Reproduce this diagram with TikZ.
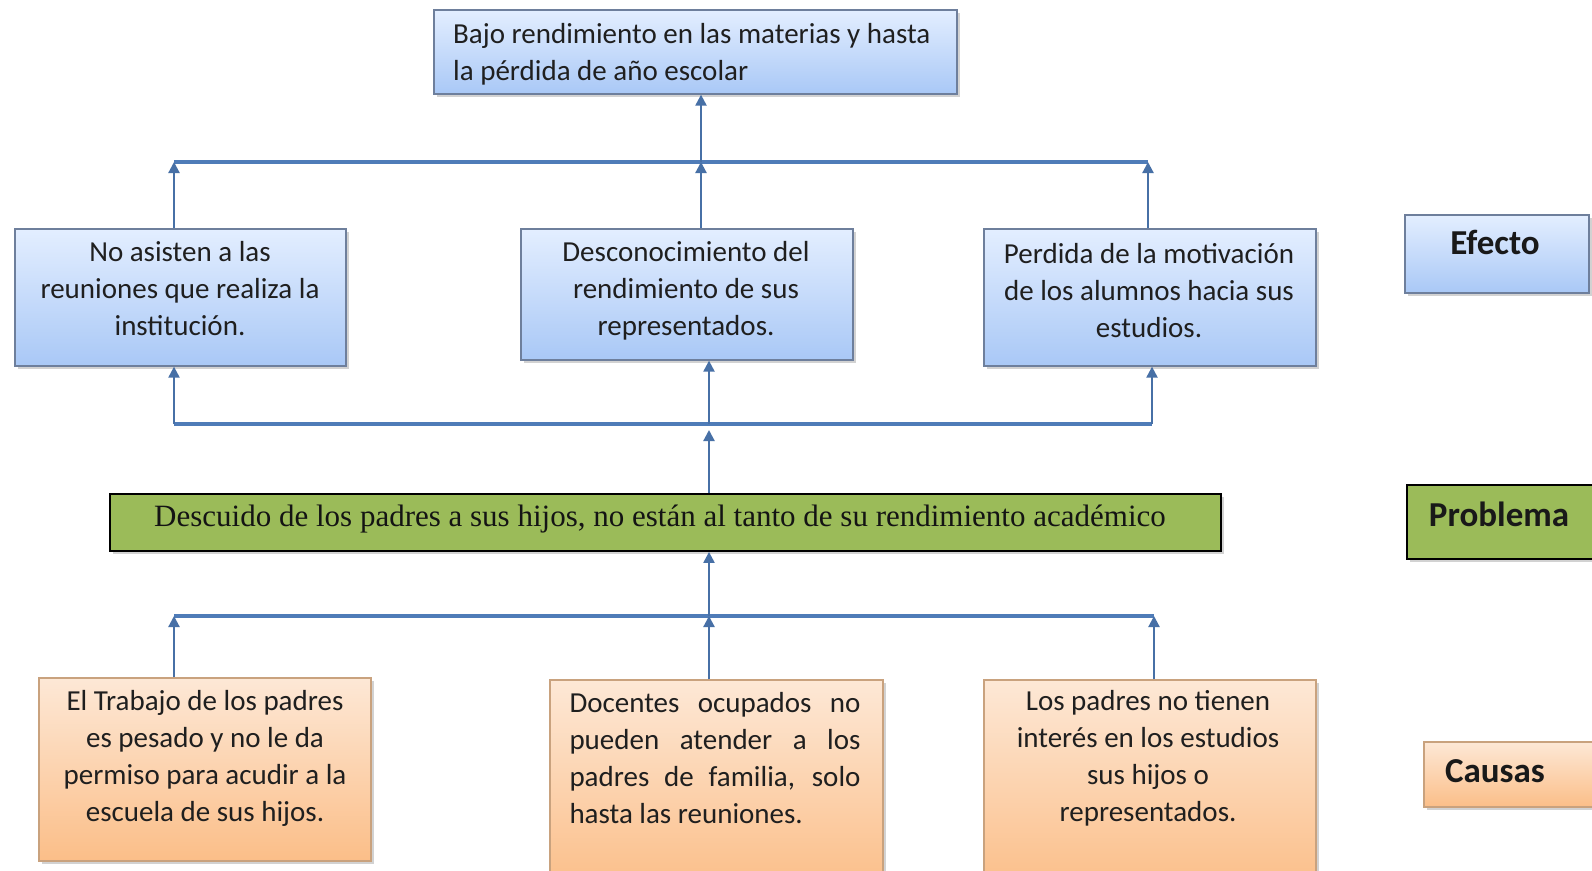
\documentclass[tikz,border=0pt]{standalone}
\usepackage{fontspec}
\setmainfont{Carlito}
\newfontfamily\serifp{Liberation Serif}
\usetikzlibrary{arrows.meta,shadows}
\definecolor{bluetop}{HTML}{E3EEFF}
\definecolor{bluebot}{HTML}{A9C8F6}
\definecolor{blueedge}{HTML}{6E7F9C}
\definecolor{ortop}{HTML}{FDE8D6}
\definecolor{orbot}{HTML}{FBBE88}
\definecolor{oredge}{HTML}{C9A27E}
\definecolor{green}{HTML}{9BBB59}
\definecolor{linec}{HTML}{4F7CB8}
\begin{document}
\begin{tikzpicture}[x=1pt,y=-1pt,
  shade/.style={drop shadow={shadow xshift=3pt,shadow yshift=-3pt,opacity=.35}},
  bluebox/.style={draw=blueedge,line width=1.3pt,top color=bluetop,bottom color=bluebot,shade,inner sep=0pt},
  orbox/.style={draw=oredge,line width=1.3pt,top color=ortop,bottom color=orbot,shade,inner sep=0pt},
  greenbox/.style={draw=black,line width=1.8pt,fill=green,shade,inner sep=0pt},
  txt/.style={font=\fontsize{29}{37}\selectfont,text=black!88,inner sep=0pt,align=center},
  legtxt/.style={font=\fontsize{35}{40}\selectfont\bfseries,text=black!90,inner sep=0pt},
  hline/.style={draw=linec,line width=4pt},
  arr/.style={draw=linec!90!black,line width=2.2pt,-{Triangle[width=11pt,length=11pt]}}]
\clip (0,0) rectangle (1592,870);
\fill[white] (0,0) rectangle (1592,870);
% boxes
\node[bluebox,minimum width=523pt,minimum height=84pt] (top) at (695.5,52) {};
\node[txt,anchor=west,align=left] (ttop) at (453,54) {Bajo rendimiento en las materias y hasta\\la pérdida de año escolar};
\node[bluebox,minimum width=331pt,minimum height=137pt] (e1) at (180.5,297.5) {};
\node[bluebox,minimum width=332pt,minimum height=131pt] (e2) at (687,294.5) {};
\node[bluebox,minimum width=332pt,minimum height=137pt] (e3) at (1150,297.5) {};
\node[txt] (te1) at (180,289) {No asisten a las\\reuniones que realiza la\\institución.};
\node[txt] (te2) at (686,291) {Desconocimiento del\\rendimiento de sus\\representados.};
\node[txt] (te3) at (1149,291) {Perdida de la motivación\\de los alumnos hacia sus\\estudios.};
\node[greenbox,minimum width=1111pt,minimum height=57pt] (p) at (665.5,522.5) {};
\node[font=\fontsize{31}{36}\selectfont\serifp,text=black!92,inner sep=0pt] (tp) at (660,519) {Descuido de los padres a sus hijos, no están al tanto de su rendimiento académico};
\node[orbox,minimum width=332pt,minimum height=183pt] (c1) at (205,769.5) {};
\node[orbox,minimum width=333pt,minimum height=210pt] (c2) at (716.5,785) {};
\node[orbox,minimum width=332pt,minimum height=210pt] (c3) at (1150,785) {};
\node[txt] (tc1) at (205,758) {El Trabajo de los padres\\es pesado y no le da\\permiso para acudir a la\\escuela de sus hijos.};
\node[txt,align=left] (tc2) at (715,758) {\makebox[291pt][s]{Docentes ocupados no}\\\makebox[291pt][s]{pueden atender a los}\\\makebox[291pt][s]{padres de familia, solo}\\hasta las reuniones.};
\node[txt] (tc3) at (1148,758) {Los padres no tienen\\interés en los estudios\\sus hijos o\\representados.};
% legend
\node[bluebox,minimum width=184pt,minimum height=78pt] (le) at (1497,254) {};
\node[legtxt] (tle) at (1495,242) {Efecto};
\node[greenbox,minimum width=200pt,minimum height=74pt] (lp) at (1507,522) {};
\node[legtxt] (tlp) at (1499,514) {Problema};
\node[orbox,minimum width=190pt,minimum height=65pt] (lc) at (1519,774.5) {};
\node[legtxt] (tlc) at (1495,771) {Causas};
% connector lines
\coordinate (l1a) at (174,162); \coordinate (l1m) at (701,162); \coordinate (l1b) at (1148,162);
\coordinate (l2a) at (174,424); \coordinate (l2m) at (709,424); \coordinate (l2b) at (1152,424);
\coordinate (l3a) at (174,616); \coordinate (l3m) at (709,616); \coordinate (l3b) at (1154,616);
\draw[hline] (l1a) -- (l1b);
\draw[hline] (l2a) -- (l2b);
\draw[hline] (l3a) -- (l3b);
\draw[arr] (l1m) -- (top.south -| l1m);
\draw[arr] (e1.north -| l1a) -- (l1a);
\draw[arr] (e2.north -| l1m) -- (l1m);
\draw[arr] (e3.north -| l1b) -- (l1b);
\draw[arr] (l2a) -- (e1.south -| l2a);
\draw[arr] (l2m) -- (e2.south -| l2m);
\draw[arr] (l2b) -- (e3.south -| l2b);
\draw[arr] (p.north -| l2m) -- ([yshift=-6pt]l2m);
\draw[arr] (l3m) -- (p.south -| l3m);
\draw[arr] (c1.north -| l3a) -- (l3a);
\draw[arr] (c2.north -| l3m) -- (l3m);
\draw[arr] (c3.north -| l3b) -- (l3b);
\end{tikzpicture}
\end{document}
